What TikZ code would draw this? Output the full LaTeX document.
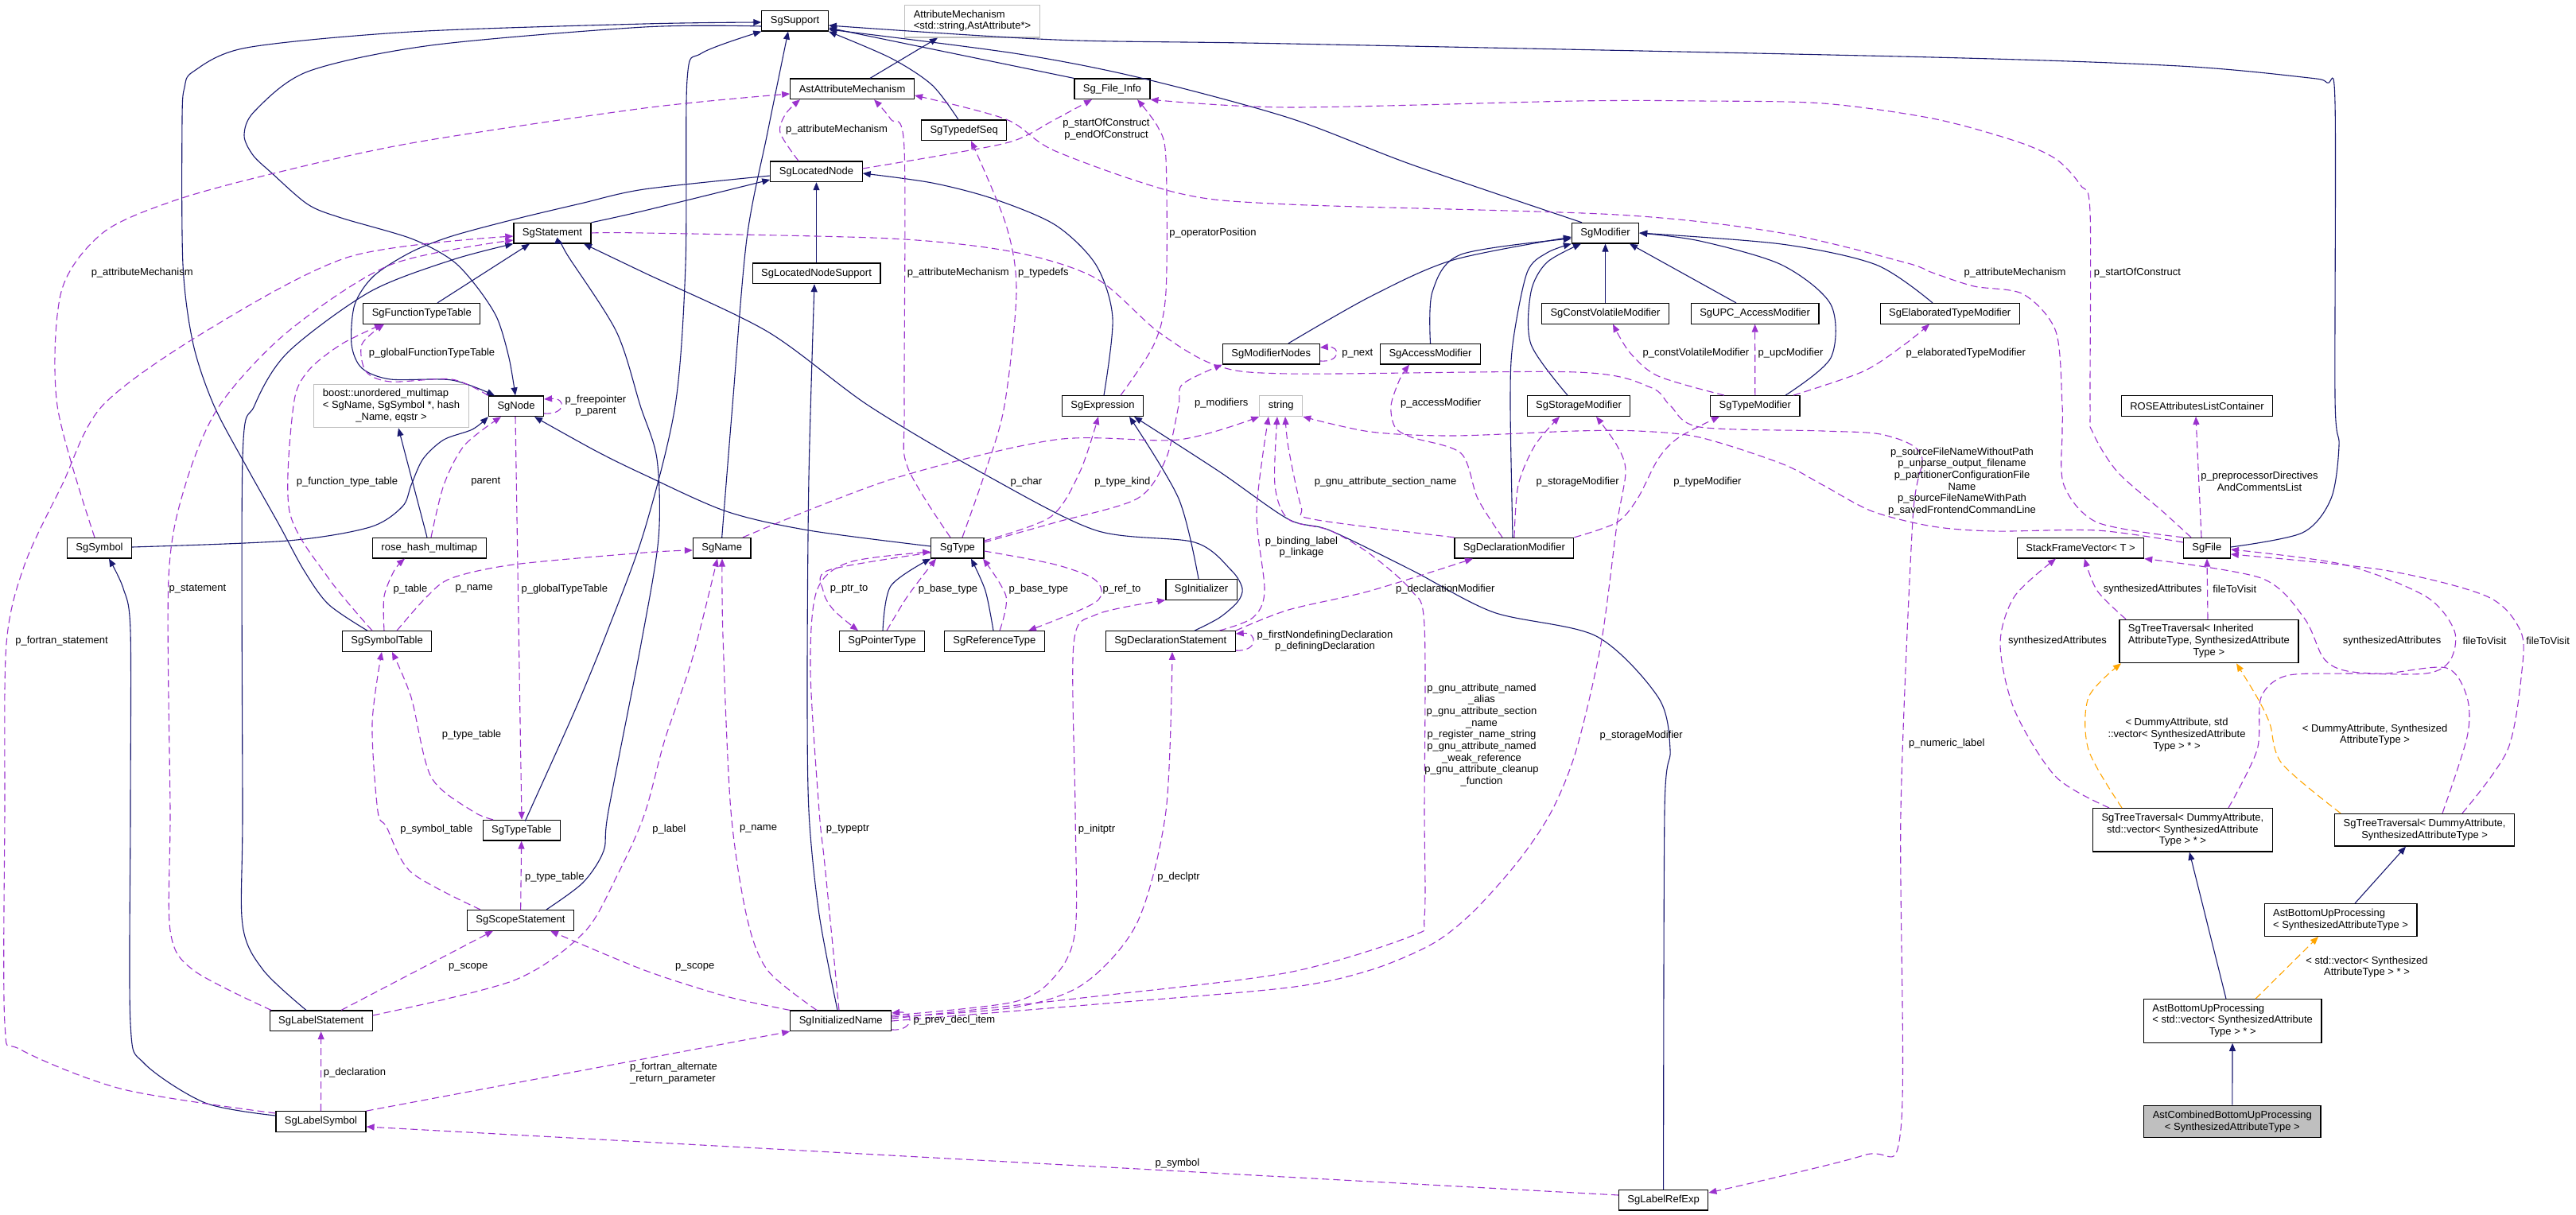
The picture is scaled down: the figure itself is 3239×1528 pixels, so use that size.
\documentclass[tikz,border=0pt]{standalone}
\usepackage{fontspec}
\setmainfont{Liberation Sans}
\usetikzlibrary{arrows.meta}
\definecolor{inhblue}{HTML}{191970}
\definecolor{usepurple}{HTML}{9A32CD}
\definecolor{tmplorange}{HTML}{FFA500}
\definecolor{extgray}{HTML}{BFBFBF}

\begin{document}
\begin{tikzpicture}[x=1pt, y=-1pt, font=\fontsize{13}{14.7}\selectfont,
    cls/.style={draw=black, line width=1.2pt, fill=white, inner xsep=11pt, inner ysep=2pt, minimum height=25.6pt},
    ext/.style={cls, draw=extgray},
    tall/.style={minimum height=40.7pt},
    taller/.style={minimum height=54.5pt},
    inh/.style={draw=inhblue, line width=1.1pt, -{Triangle[length=10pt,width=8pt]}},
    usage/.style={draw=usepurple, line width=1.1pt, dash pattern=on 9pt off 5pt, -{Triangle[length=10pt,width=8pt]}},
    tmpl/.style={usage, draw=tmplorange},
    lbl/.style={inner sep=0pt, align=center}]
    \useasboundingbox (0,0) rectangle (3239,1528);
    \fill[white] (0,0) rectangle (3239,1528);

    \node[cls] (support) at (999.6,26.2) {SgSupport};
    \node[ext, tall] (attrmech) at (1222.5,26.7) {\begin{tabular}{@{}l@{}}AttributeMechanism\\<std::string,AstAttribute*>\end{tabular}};
    \node[cls] (astattr) at (1071.6,111.8) {AstAttributeMechanism};
    \node[cls] (fileinfo) at (1398.4,111.8) {Sg\_File\_Info};
    \node[cls] (typedefseq) at (1212.2,163.8) {SgTypedefSeq};
    \node[cls] (locnode) at (1026.5,215.8) {SgLocatedNode};
    \node[cls] (stmt) at (694.5,293.2) {SgStatement};
    \node[cls] (modifier) at (2018.5,293.2) {SgModifier};
    \node[cls] (locsupport) at (1026.5,343.8) {SgLocatedNodeSupport};
    \node[cls] (functable) at (530.3,394.3) {SgFunctionTypeTable};
    \node[cls] (cvmod) at (2018.5,394.3) {SgConstVolatileModifier};
    \node[cls] (upcmod) at (2206.6,394.3) {SgUPC\_AccessModifier};
    \node[cls] (elabmod) at (2451.7,394.3) {SgElaboratedTypeModifier};
    \node[cls] (modnodes) at (1598.3,445.2) {SgModifierNodes};
    \node[cls] (accmod) at (1798.5,445.2) {SgAccessModifier};
    \node[ext, taller] (boost) at (492,510.5) {\begin{tabular}{@{}l@{}}boost::unordered\_multimap\\< SgName, SgSymbol *, hash\\\multicolumn{1}{@{}c@{}}{\_Name, eqstr >}\end{tabular}};
    \node[cls] (sgnode) at (649,510.8) {SgNode};
    \node[cls] (exprn) at (1386.5,510.6) {SgExpression};
    \node[ext] (strng) at (1610.7,510.6) {string};
    \node[cls] (storage) at (1985,510.5) {SgStorageModifier};
    \node[cls] (typemod) at (2206.8,510.5) {SgTypeModifier};
    \node[cls] (roseattr) at (2762.4,510.5) {ROSEAttributesListContainer};
    \node[cls] (symbol) at (125,689.2) {SgSymbol};
    \node[cls] (hashmap) at (539.8,689.2) {rose\_hash\_multimap};
    \node[cls] (sgname) at (907.7,689.2) {SgName};
    \node[cls] (sgtype) at (1203.9,689.2) {SgType};
    \node[cls] (declmod) at (1903.9,689.2) {SgDeclarationModifier};
    \node[cls] (stackfv) at (2616,689.2) {StackFrameVector< T >};
    \node[cls] (sgfile) at (2774.8,689.2) {SgFile};
    \node[cls] (sginit) at (1510.5,741.3) {SgInitializer};
    \node[cls] (symtab) at (486.6,806.5) {SgSymbolTable};
    \node[cls] (ptrtype) at (1109.1,806.5) {SgPointerType};
    \node[cls] (reftype) at (1250.4,806.5) {SgReferenceType};
    \node[cls] (declstmt) at (1471.7,806.5) {SgDeclarationStatement};
    \node[cls, taller] (travinh) at (2777.4,806.5) {\begin{tabular}{@{}l@{}}SgTreeTraversal< Inherited\\AttributeType, SynthesizedAttribute\\\multicolumn{1}{@{}c@{}}{Type >}\end{tabular}};
    \node[cls, taller, align=center] (travvec) at (2744.4,1043.8) {SgTreeTraversal< DummyAttribute,\\std::vector< SynthesizedAttribute\\Type > * >};
    \node[cls, tall, align=center] (travsyn) at (3048.6,1043.7) {SgTreeTraversal< DummyAttribute,\\SynthesizedAttributeType >};
    \node[cls] (typetab) at (655.8,1044.2) {SgTypeTable};
    \node[cls] (scope) at (654.5,1157.3) {SgScopeStatement};
    \node[cls, tall] (bottomsyn) at (2943,1157) {\begin{tabular}{@{}l@{}}AstBottomUpProcessing\\< SynthesizedAttributeType >\end{tabular}};
    \node[cls] (labelstmt) at (403.7,1283.8) {SgLabelStatement};
    \node[cls] (initname) at (1057.2,1283.8) {SgInitializedName};
    \node[cls, taller] (bottomvec) at (2807.1,1284) {\begin{tabular}{@{}l@{}}AstBottomUpProcessing\\< std::vector< SynthesizedAttribute\\\multicolumn{1}{@{}c@{}}{Type > * >}\end{tabular}};
    \node[cls] (labelsym) at (403.5,1410.5) {SgLabelSymbol};
    \node[cls, tall, align=center, fill=extgray] (combined) at (2806.8,1410.5) {AstCombinedBottomUpProcessing\\< SynthesizedAttributeType >};
    \node[cls] (labelref) at (2091.6,1509.2) {SgLabelRefExp};

    \draw[inh] plot[smooth] coordinates {(support.west |- 0,33) (810,34) (542,57) (387,90) (320,140) (307,170) (318,195) (341,217) (387,257) (429,274) (517,300) (568,327) (599,360) (625,400) (640,450) (sgnode.north -| 648,0)};
    \draw[inh] plot[smooth] coordinates {(symbol.east |- 0,688) (362,680) (465,663) (506,637) (517,610) (532,577) (558,553) (594,540) (sgnode.south west)};
    \draw[inh] plot[smooth] coordinates {(locnode.west |- 0,221) (810,238) (730,256) (646,276) (568,297) (517,317) (470,347) (446,383) (442,433) (455,463) (491,477) (568,478) (sgnode.north -| 622,0)};
    \draw[inh] plot[smooth] coordinates {(sgtype.west |- 0,687) (1017,667) (913,643) (810,597) (749,567) (sgnode.south -| 672,0)};
    \draw[inh] plot[smooth] coordinates {(stmt.north east) (810,265) (locnode.west |- 0,226)};
    \draw[inh] plot[smooth] coordinates {(exprn.north -| 1388,0) (1399,400) (1378,333) (1327,283) (1249,250) (1172,230) (locnode.east |- 0,218)};
    \draw[inh] (locsupport) -- (locnode);
    \draw[inh] plot[smooth] coordinates {(initname.north -| 1053,0) (1030,1150) (1017,1020) (1015,850) (1017,600) (locsupport.south -| 1024,0)};
    \draw[inh] (astattr.north -| 1094,0) -- (attrmech.south -| 1179,0);
    \draw[inh] plot[smooth] coordinates {(typedefseq.north -| 1205,0) (1172,107) (1120,73) (support.south east)};
    \draw[inh] (fileinfo.north west) -- (support.east |- 0,35);
    \draw[inh] plot[smooth] coordinates {(modifier.north -| 1989,0) (1775,207) (1620,148) (1430,97) (1275,67) (support.east |- 0,37)};
    \draw[inh] plot[smooth] coordinates {(sgfile.east |- 0,688) (2895,670) (2931,627) (2941,560) (2936,500) (2936,130) (2926,104) (2895,97) (2740,83) (2430,72) (1620,55) (1327,50) (support.east |- 0,32)};
    \draw[inh] plot[smooth] coordinates {(symtab.north -| 462,0) (413,760) (382,717) (351,660) (310,587) (269,510) (243,433) (230,333) (229,150) (232,110) (243,90) (310,60) (517,40) (810,30) (support.west |- 0,28)};
    \draw[inh] plot[smooth] coordinates {(typetab.north -| 661,0) (666,1020) (723,893) (764,793) (810,668) (849,510) (862,333) (864,100) (882,67) (support.south west)};
    \draw[inh] plot[smooth] coordinates {(sgname.north) (921,510) (939,300) (965,167) (support.south -| 991,0)};
    \draw[inh] (functable.north -| 550,0) -- (stmt.south -| 666,0);
    \draw[inh] plot[smooth] coordinates {(scope.north -| 687,0) (733,1110) (759,1070) (765,1020) (806,810) (828,677) (826,577) (805,510) (775,417) (713,320) (stmt.south -| 708,0)};
    \draw[inh] plot[smooth] coordinates {(declstmt.north -| 1502,0) (1533,777) (1556,757) (1562,740) (1548,717) (1502,682) (1378,667) (1239,597) (1092,510) (965,417) (810,343) (stmt.south -| 734,0)};
    \draw[inh] plot[smooth] coordinates {(labelstmt.north -| 385,0) (331,1220) (305,1163) (305,1020) (305,577) (320,510) (362,443) (465,367) (568,327) (stmt.south west)};
    \draw[inh] plot[smooth] coordinates {(sginit.north -| 1507,0) (1482,627) (exprn.south -| 1420,0)};
    \draw[inh] plot[smooth] coordinates {(labelref.north) (2093,1020) (2100,943) (2085,877) (2007,800) (1878,770) (1775,717) (1672,667) (1620,653) (1533,593) (exprn.south -| 1426,0)};
    \draw[inh] plot[smooth] coordinates {(ptrtype.north -| 1110,0) (1120,737) (sgtype.south west)};
    \draw[inh] plot[smooth] coordinates {(reftype.north -| 1249,0) (1239,743) (sgtype.south -| 1221,0)};
    \draw[inh] plot[smooth] coordinates {(modnodes.north -| 1620,0) (1723,373) (1827,327) (modifier.west |- 0,298)};
    \draw[inh] plot[smooth] coordinates {(accmod.north) (1801,367) (1837,320) (modifier.west |- 0,300)};
    \draw[inh] (cvmod) -- (modifier);
    \draw[inh] (upcmod.north -| 2183,0) -- (modifier.south -| 2049,0);
    \draw[inh] plot[smooth] coordinates {(storage.north -| 1971,0) (1925,433) (1925,367) (1945,330) (modifier.south -| 1988,0)};
    \draw[inh] plot[smooth] coordinates {(typemod.north -| 2245,0) (2302,450) (2302,383) (2240,333) (2137,303) (modifier.east |- 0,293)};
    \draw[inh] plot[smooth] coordinates {(elabmod.north -| 2430,0) (2359,333) (2240,307) (modifier.east |- 0,293)};
    \draw[inh] plot[smooth] coordinates {(declmod.north -| 1902,0) (1899,510) (1902,433) (1920,343) (1945,318) (modifier.south west)};
    \draw[inh] (hashmap.north -| 537,0) -- (boost.south -| 501,0);
    \draw[inh] plot[smooth] coordinates {(labelsym.west |- 0,1403) (258,1387) (181,1337) (164,1287) (164,1020) (164,793) (155,740) (symbol.south -| 137,0)};
    \draw[inh] (combined) -- (bottomvec);
    \draw[inh] (bottomvec.north -| 2799,0) -- (travvec.south -| 2753,0);
    \draw[inh] (bottomsyn.north -| 2961,0) -- (travsyn.south -| 3025,0);

    \draw[tmpl] (bottomvec.north -| 2836,0) -- (bottomsyn.south -| 2915,0);
    \draw[tmpl] plot[smooth] coordinates {(travvec.north -| 2668,0) (2626,943) (2626,877) (travinh.south -| 2667,0)};
    \draw[tmpl] plot[smooth] coordinates {(travsyn.north -| 2943,0) (2869,960) (2854,910) (2838,877) (travinh.south -| 2812,0)};

    \draw[usage] plot[smooth] coordinates {(symbol.north -| 119,0) (72,510) (77,367) (129,293) (217,253) (336,220) (517,180) (810,136) (astattr.west |- 0,118)};
    \draw[usage] plot[smooth] coordinates {(locnode.north -| 1004,0) (981,167) (988,143) (astattr.south -| 1006,0)};
    \draw[usage] plot[smooth] coordinates {(sgtype.north -| 1195,0) (1141,587) (1137,510) (1137,187) (1120,150) (astattr.south -| 1099,0)};
    \draw[usage] plot[smooth] coordinates {(sgtype.north -| 1210,0) (1239,593) (1263,510) (1278,367) (1265,283) (typedefseq.south -| 1221,0)};
    \draw[usage] plot[smooth] coordinates {(locnode.east |- 0,212) (1197,193) (1275,177) (1327,150) (fileinfo.south -| 1373,0)};
    \draw[usage] plot[smooth] coordinates {(exprn.north -| 1409,0) (1451,433) (1466,367) (1466,200) (1456,160) (fileinfo.south -| 1430,0)};
    \draw[usage] plot[smooth] coordinates {(sgfile.north -| 2755,0) (2719,643) (2662,593) (2631,543) (2628,510) (2628,267) (2616,233) (2585,200) (2533,177) (2430,149) (2292,130) (2137,127) (1982,127) (1620,135) (fileinfo.south east)};
    \draw[usage] plot[smooth] coordinates {(sgfile.north west) (2637,657) (2595,610) (2593,543) (2593,510) (2585,417) (2544,370) (2482,360) (2430,343) (2395,330) (2240,293) (2033,270) (1620,257) (1482,243) (1327,190) (1265,150) (astattr.east |- 0,120)};
    \draw[usage] plot[smooth] coordinates {(labelstmt.north -| 341,0) (243,1220) (214,1170) (214,1020) (212,727) (233,610) (276,510) (362,417) (491,333) (stmt.west |- 0,302)};
    \draw[usage] plot[smooth] coordinates {(labelsym.west |- 0,1400) (155,1370) (26,1320) (6,1287) (6,1020) (8,810) (31,710) (78,610) (129,510) (258,417) (439,323) (stmt.west |- 0,297)};
    \draw[usage] plot[smooth] coordinates {(symtab.north -| 468,0) (413,727) (364,643) (369,510) (387,467) (429,433) (functable.south -| 481,0)};
    \draw[usage] plot[smooth] coordinates {(sgnode.north west) (568,477) (491,480) (460,467) (455,433) (functable.south -| 483,0)};
    \draw[usage] (sgnode.east |- 0,520) .. controls (712,522) and (712,500) .. (sgnode.east |- 0,502);
    \draw[usage] plot[smooth] coordinates {(hashmap.north -| 542,0) (558,610) (584,560) (sgnode.south -| 630,0)};
    \draw[usage] plot[smooth] coordinates {(sgnode.south -| 648,0) (653,843) (typetab.north -| 656,0)};
    \draw[usage] plot[smooth] coordinates {(symtab.north -| 483,0) (483,750) (496,717) (hashmap.south -| 509,0)};
    \draw[usage] plot[smooth] coordinates {(symtab.north -| 499,0) (537,750) (568,727) (646,710) (810,695) (sgname.west |- 0,692)};
    \draw[usage] plot[smooth] coordinates {(typetab.north -| 620,0) (594,1020) (542,977) (517,877) (symtab.south -| 493,0)};
    \draw[usage] plot[smooth] coordinates {(scope.north -| 604,0) (517,1097) (486,1040) (475,1020) (468,910) (symtab.south -| 480,0)};
    \draw[usage] (scope) -- (typetab);
    \draw[usage] (labelstmt.north -| 429,0) -- (scope.south -| 620,0);
    \draw[usage] plot[smooth] coordinates {(initname.north west) (913,1253) (810,1220) (scope.south -| 692,0)};
    \draw[usage] plot[smooth] coordinates {(labelstmt.east |- 0,1277) (646,1233) (734,1173) (775,1103) (810,1025) (836,930) (870,830) (sgname.south -| 902,0)};
    \draw[usage] plot[smooth] coordinates {(initname.north -| 1027,0) (965,1220) (939,1153) (919,1020) (909,800) (sgname.south -| 908,0)};
    \draw[usage] plot[smooth] coordinates {(initname.north -| 1055,0) (1037,1087) (1030,1020) (1019,843) (1027,743) (1068,707) (sgtype.west |- 0,694)};
    \draw[usage] plot[smooth] coordinates {(initname.east |- 0,1277) (1275,1260) (1327,1227) (1352,1170) (1352,1020) (1350,810) (1378,773) (sginit.south west)};
    \draw[usage] plot[smooth] coordinates {(initname.east |- 0,1279) (1275,1267) (1363,1237) (1430,1160) (1466,1020) (declstmt.south -| 1474,0)};
    \draw[usage] (initname.east |- 0,1295) .. controls (1150,1297) and (1150,1271) .. (initname.east |- 0,1274);
    \draw[usage] plot[smooth] coordinates {(initname.east |- 0,1281) (1378,1253) (1620,1223) (1775,1177) (1791,1153) (1791,1020) (1791,787) (1775,743) (1723,697) (1672,667) (1620,653) (1603,610) (strng.south -| 1606,0)};
    \draw[usage] plot[smooth] coordinates {(declstmt.north -| 1533,0) (1575,777) (1590,743) (1580,643) (strng.south -| 1595,0)};
    \draw[usage] plot[smooth] coordinates {(declmod.north west) (1651,653) (1636,637) (1620,563) (strng.south -| 1616,0)};
    \draw[usage] plot[smooth] coordinates {(sgname.north -| 934,0) (1120,603) (1327,553) (1482,553) (strng.south west)};
    \draw[usage] plot[smooth] coordinates {(sgfile.west |- 0,682) (2637,667) (2508,668) (2430,662) (2354,643) (2292,610) (2240,583) (2137,550) (2059,542) (1982,542) (1827,548) (1723,543) (strng.south east)};
    \draw[usage] plot[smooth] coordinates {(stmt.east |- 0,293) (810,293) (1120,300) (1275,317) (1378,350) (1456,417) (1528,459) (1620,470) (1982,468) (2075,487) (2100,510) (2137,537) (2292,542) (2369,547) (2416,573) (2405,653) (2390,1020) (2390,1420) (2343,1453) (labelref.east |- 0,1500)};
    \draw[usage] plot[smooth] coordinates {(sgtype.east |- 0,682) (1327,657) (1430,627) (1466,577) (1482,510) (1487,483) (modnodes.south west)};
    \draw[usage] plot[smooth] coordinates {(sgtype.east |- 0,680) (1321,650) (1358,593) (exprn.south -| 1381,0)};
    \draw[usage] (modnodes.east |- 0,454) .. controls (1686,456) and (1686,435) .. (modnodes.east |- 0,437);
    \draw[usage] plot[smooth] coordinates {(declmod.north -| 1889,0) (1858,627) (1837,570) (1775,550) (1754,537) (1749,510) (1760,477) (accmod.south -| 1772,0)};
    \draw[usage] plot[smooth] coordinates {(declmod.north -| 1904,0) (1909,610) (1930,560) (storage.south -| 1961,0)};
    \draw[usage] plot[smooth] coordinates {(initname.east |- 0,1284) (1378,1263) (1620,1242) (1723,1220) (1801,1187) (1852,1147) (1909,1083) (1951,1020) (1982,943) (2013,810) (2033,660) (2044,593) (2033,560) (storage.south -| 2007,0)};
    \draw[usage] plot[smooth] coordinates {(declmod.north east) (2033,657) (2059,627) (2085,577) (2111,550) (typemod.south -| 2162,0)};
    \draw[usage] plot[smooth] coordinates {(typemod.north -| 2168,0) (2085,473) (2049,443) (cvmod.south -| 2028,0)};
    \draw[usage] (typemod) -- (upcmod);
    \draw[usage] plot[smooth] coordinates {(typemod.north -| 2255,0) (2343,467) (2395,433) (elabmod.south -| 2426,0)};
    \draw[usage] plot[smooth] coordinates {(sgtype.west |- 0,695) (1042,717) (1035,743) (1048,767) (ptrtype.north -| 1079,0)};
    \draw[usage] plot[smooth] coordinates {(ptrtype.north -| 1115,0) (1141,750) (sgtype.south -| 1177,0)};
    \draw[usage] plot[smooth] coordinates {(reftype.north -| 1257,0) (1265,750) (sgtype.south -| 1236,0)};
    \draw[usage] plot[smooth] coordinates {(sgtype.east |- 0,693) (1327,710) (1378,730) (1378,757) (reftype.north -| 1293,0)};
    \draw[usage] (declstmt.east |- 0,818) .. controls (1582,820) and (1582,795) .. (declstmt.east |- 0,797);
    \draw[usage] plot[smooth] coordinates {(declstmt.north east) (1620,767) (1723,743) (declmod.south -| 1852,0)};
    \draw[usage] (sgfile.north -| 2768,0) -- (roseattr.south -| 2761,0);
    \draw[usage] plot[smooth] coordinates {(travinh.north -| 2673,0) (2637,743) (stackfv.south -| 2621,0)};
    \draw[usage] (travinh.north -| 2776,0) -- (sgfile.south -| 2775,0);
    \draw[usage] plot[smooth] coordinates {(travvec.north -| 2652,0) (2585,977) (2533,893) (2515,810) (2533,750) (stackfv.south -| 2585,0)};
    \draw[usage] plot[smooth] coordinates {(travvec.north -| 2802,0) (2838,943) (2843,877) (2874,850) (2947,847) (3050,847) (3081,830) (3086,793) (3050,750) (2947,710) (sgfile.east |- 0,691)};
    \draw[usage] plot[smooth] coordinates {(travsyn.north -| 3071,0) (3102,927) (3102,877) (3076,840) (2998,847) (2947,843) (2921,827) (2897,777) (2843,727) (stackfv.south east)};
    \draw[usage] plot[smooth] coordinates {(travsyn.north -| 3096,0) (3153,943) (3171,843) (3169,793) (3127,750) (2998,717) (sgfile.east |- 0,697)};
    \draw[usage] (labelsym) -- (labelstmt);
    \draw[usage] (labelsym.north east) -- (initname.south west);
    \draw[usage] (labelref.west |- 0,1503) -- (labelsym.east |- 0,1417);

    \node[lbl] (lab1) at (178.7,342.7) {p\_attributeMechanism};
    \node[lbl] (lab2) at (1052,162.7) {p\_attributeMechanism};
    \node[lbl] (lab3) at (1204.7,342.7) {p\_attributeMechanism};
    \node[lbl] (lab4) at (1311.8,342.7) {p\_typedefs};
    \node[lbl] (lab5) at (1391,162.7) {p\_startOfConstruct\\p\_endOfConstruct};
    \node[lbl] (lab6) at (1525,292.7) {p\_operatorPosition};
    \node[lbl] (lab7) at (2687.5,342.7) {p\_startOfConstruct};
    \node[lbl] (lab8) at (2533.6,342.7) {p\_attributeMechanism};
    \node[lbl] (lab9) at (248.5,740.7) {p\_statement};
    \node[lbl] (lab10) at (77.5,805.7) {p\_fortran\_statement};
    \node[lbl] (lab11) at (436.5,606) {p\_function\_type\_table};
    \node[lbl] (lab12) at (543,444.3) {p\_globalFunctionTypeTable};
    \node[lbl] (lab13) at (749,510) {p\_freepointer\\p\_parent};
    \node[lbl] (lab14) at (610.8,606) {parent};
    \node[lbl] (lab15) at (709.8,740.7) {p\_globalTypeTable};
    \node[lbl] (lab16) at (516,740.7) {p\_table};
    \node[lbl] (lab17) at (596,740.7) {p\_name};
    \node[lbl] (lab18) at (593,924) {p\_type\_table};
    \node[lbl] (lab19) at (548.8,1042.7) {p\_symbol\_table};
    \node[lbl] (lab20) at (697.3,1102.7) {p\_type\_table};
    \node[lbl] (lab21) at (588.8,1216.7) {p\_scope};
    \node[lbl] (lab22) at (873.8,1216.7) {p\_scope};
    \node[lbl] (lab23) at (841.4,1042.7) {p\_label};
    \node[lbl] (lab24) at (953.5,1042.7) {p\_name};
    \node[lbl] (lab25) at (1066,1042.7) {p\_typeptr};
    \node[lbl] (lab26) at (1379,1042.7) {p\_initptr};
    \node[lbl] (lab27) at (1482,1102.7) {p\_declptr};
    \node[lbl] (lab28) at (1200,1282.7) {p\_prev\_decl\_item};
    \node[lbl] (lab29) at (1863,924.4) {p\_gnu\_attribute\_named\\\_alias\\p\_gnu\_attribute\_section\\\_name\\p\_register\_name\_string\\p\_gnu\_attribute\_named\\\_weak\_reference\\p\_gnu\_attribute\_cleanup\\\_function};
    \node[lbl] (lab30) at (1636.5,688.2) {p\_binding\_label\\p\_linkage};
    \node[lbl] (lab31) at (1742,606) {p\_gnu\_attribute\_section\_name};
    \node[lbl] (lab32) at (1290.4,606) {p\_char};
    \node[lbl] (lab33) at (2467,605.5) {p\_sourceFileNameWithoutPath\\p\_unparse\_output\_filename\\p\_partitionerConfigurationFile\\Name\\p\_sourceFileNameWithPath\\p\_savedFrontendCommandLine};
    \node[lbl] (lab34) at (2447.8,934.7) {p\_numeric\_label};
    \node[lbl] (lab35) at (1535.8,506.7) {p\_modifiers};
    \node[lbl] (lab36) at (1411.3,606) {p\_type\_kind};
    \node[lbl] (lab37) at (1706.8,444.3) {p\_next};
    \node[lbl] (lab38) at (1811.7,506.7) {p\_accessModifier};
    \node[lbl] (lab39) at (1983.6,606) {p\_storageModifier};
    \node[lbl] (lab40) at (2063.7,924.7) {p\_storageModifier};
    \node[lbl] (lab41) at (2146.9,606) {p\_typeModifier};
    \node[lbl] (lab42) at (2132.4,444.3) {p\_constVolatileModifier};
    \node[lbl] (lab43) at (2251.5,444.3) {p\_upcModifier};
    \node[lbl] (lab44) at (2471.8,444.3) {p\_elaboratedTypeModifier};
    \node[lbl] (lab45) at (1067.6,740.7) {p\_ptr\_to};
    \node[lbl] (lab46) at (1192,740.7) {p\_base\_type};
    \node[lbl] (lab47) at (1305.8,740.7) {p\_base\_type};
    \node[lbl] (lab48) at (1410.5,740.7) {p\_ref\_to};
    \node[lbl] (lab49) at (1666,806) {p\_firstNondefiningDeclaration\\p\_definingDeclaration};
    \node[lbl] (lab50) at (1817.3,740.7) {p\_declarationModifier};
    \node[lbl] (lab51) at (2841,605.3) {p\_preprocessorDirectives\\AndCommentsList};
    \node[lbl] (lab52) at (2706.5,740.7) {synthesizedAttributes};
    \node[lbl] (lab53) at (2809.8,740.7) {fileToVisit};
    \node[lbl] (lab54) at (2587,805.7) {synthesizedAttributes};
    \node[lbl] (lab55) at (3124,805.7) {fileToVisit};
    \node[lbl] (lab56) at (3007.5,805.7) {synthesizedAttributes};
    \node[lbl] (lab57) at (3203.6,805.7) {fileToVisit};
    \node[lbl] (lab58) at (446,1349.3) {p\_declaration};
    \node[lbl, align=left] (lab59) at (847,1349.7) {p\_fortran\_alternate\\\_return\_parameter};
    \node[lbl] (lab60) at (1480.5,1462.7) {p\_symbol};
    \node[lbl] (lab61) at (2976,1216) {< std::vector< Synthesized\\AttributeType > * >};
    \node[lbl] (lab62) at (2737,924) {< DummyAttribute, std\\::vector< SynthesizedAttribute\\Type > * >};
    \node[lbl] (lab63) at (2986,924) {< DummyAttribute, Synthesized\\AttributeType >};
\end{tikzpicture}
\end{document}
